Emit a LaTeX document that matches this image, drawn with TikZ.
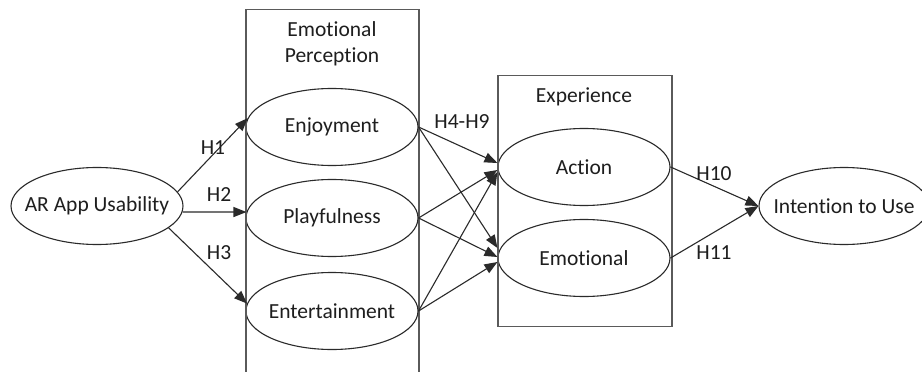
\documentclass[tikz,border=0pt]{standalone}
\usepackage{fontspec}
\setmainfont{Carlito}[Ligatures=NoCommon]
\usetikzlibrary{shapes.geometric,arrows.meta}
\definecolor{txt}{HTML}{1E1E1E}
\definecolor{boxc}{HTML}{5A5A5A}
\definecolor{linec}{HTML}{2A2A2A}
\tikzset{
  ell/.style={ellipse, draw=linec, line width=1.1pt, minimum width=172pt, minimum height=77pt, inner sep=0pt,
     label={[text=txt, font=\fontsize{21.5}{25}\selectfont, inner sep=0pt]center:#1}},
  grp/.style={draw=boxc, line width=1.4pt},
  lbl/.style={text=txt, font=\fontsize{21.5}{25}\selectfont, inner sep=0pt},
  arr/.style={draw=linec, line width=1.1pt, -{Triangle[length=13pt,width=10pt]}},
}
\begin{document}
\begin{tikzpicture}[x=1pt,y=-1pt]
\clip (0,0) rectangle (922,372);
\fill[white] (0,0) rectangle (922,372);
% groups
\node[grp, minimum width=172pt, minimum height=400pt, inner sep=0pt, anchor=north west] (gep) at (246,9) {};
\node[grp, minimum width=173pt, minimum height=251pt, inner sep=0pt, anchor=north west] (gex) at (498,75) {};
\node[lbl, align=center, font=\fontsize{21.5}{26}\selectfont] (tep) at (332,44) {Emotional\\Perception};
\node[lbl] (tex) at (584,97) {Experience};
% nodes
\node[ell=AR App Usability] (usab) at (97,206) {};
\node[ell=Enjoyment] (enj) at (332,127) {};
\node[ell=Playfulness] (play) at (332,218) {};
\node[ell=Entertainment] (ent) at (332,311) {};
\node[ell=Action] (act) at (584,167) {};
\node[ell=Emotional] (emo) at (584,258) {};
\node[ell=Intention to Use, minimum width=170pt] (int) at (844,206) {};
% redraw box left/right lines on top
\draw[boxc, line width=1.4pt] (gep.north west) -- (gep.south west);
\draw[boxc, line width=1.4pt] (gep.north east) -- (gep.south east);
\draw[boxc, line width=1.4pt] (gex.north west) -- (gex.south west);
\draw[boxc, line width=1.4pt] (gex.north east) -- (gex.south east);
% arrows
\draw[arr] (usab.10) -- (enj.174);
\draw[arr] (usab.-4) -- (play.176);
\draw[arr] (usab.-17) -- (ent.175);
\draw[arr] (enj.east) -- ([yshift=4pt]act.west);
\draw[arr] (play.east) -- ([yshift=-3pt]act.west);
\draw[arr] (ent.east) -- ([yshift=-5pt]act.west);
\draw[arr] (enj.east) -- ([yshift=10pt]emo.west);
\draw[arr] (play.east) -- ([yshift=1pt]emo.west);
\draw[arr] (ent.east) -- ([yshift=-4pt]emo.west);
\draw[arr] (act.east) -- (int.west);
\draw[arr] (emo.east) -- (int.west);
% labels
\node[lbl] (h1) at (213,148) {H1};
\node[lbl] (h2) at (219,195) {H2};
\node[lbl] (h3) at (219,253) {H3};
\node[lbl] (h49) at (462,122) {H4-H9};
\node[lbl] (h10) at (714,174) {H10};
\node[lbl] (h11) at (714,253) {H11};
\end{tikzpicture}
\end{document}
